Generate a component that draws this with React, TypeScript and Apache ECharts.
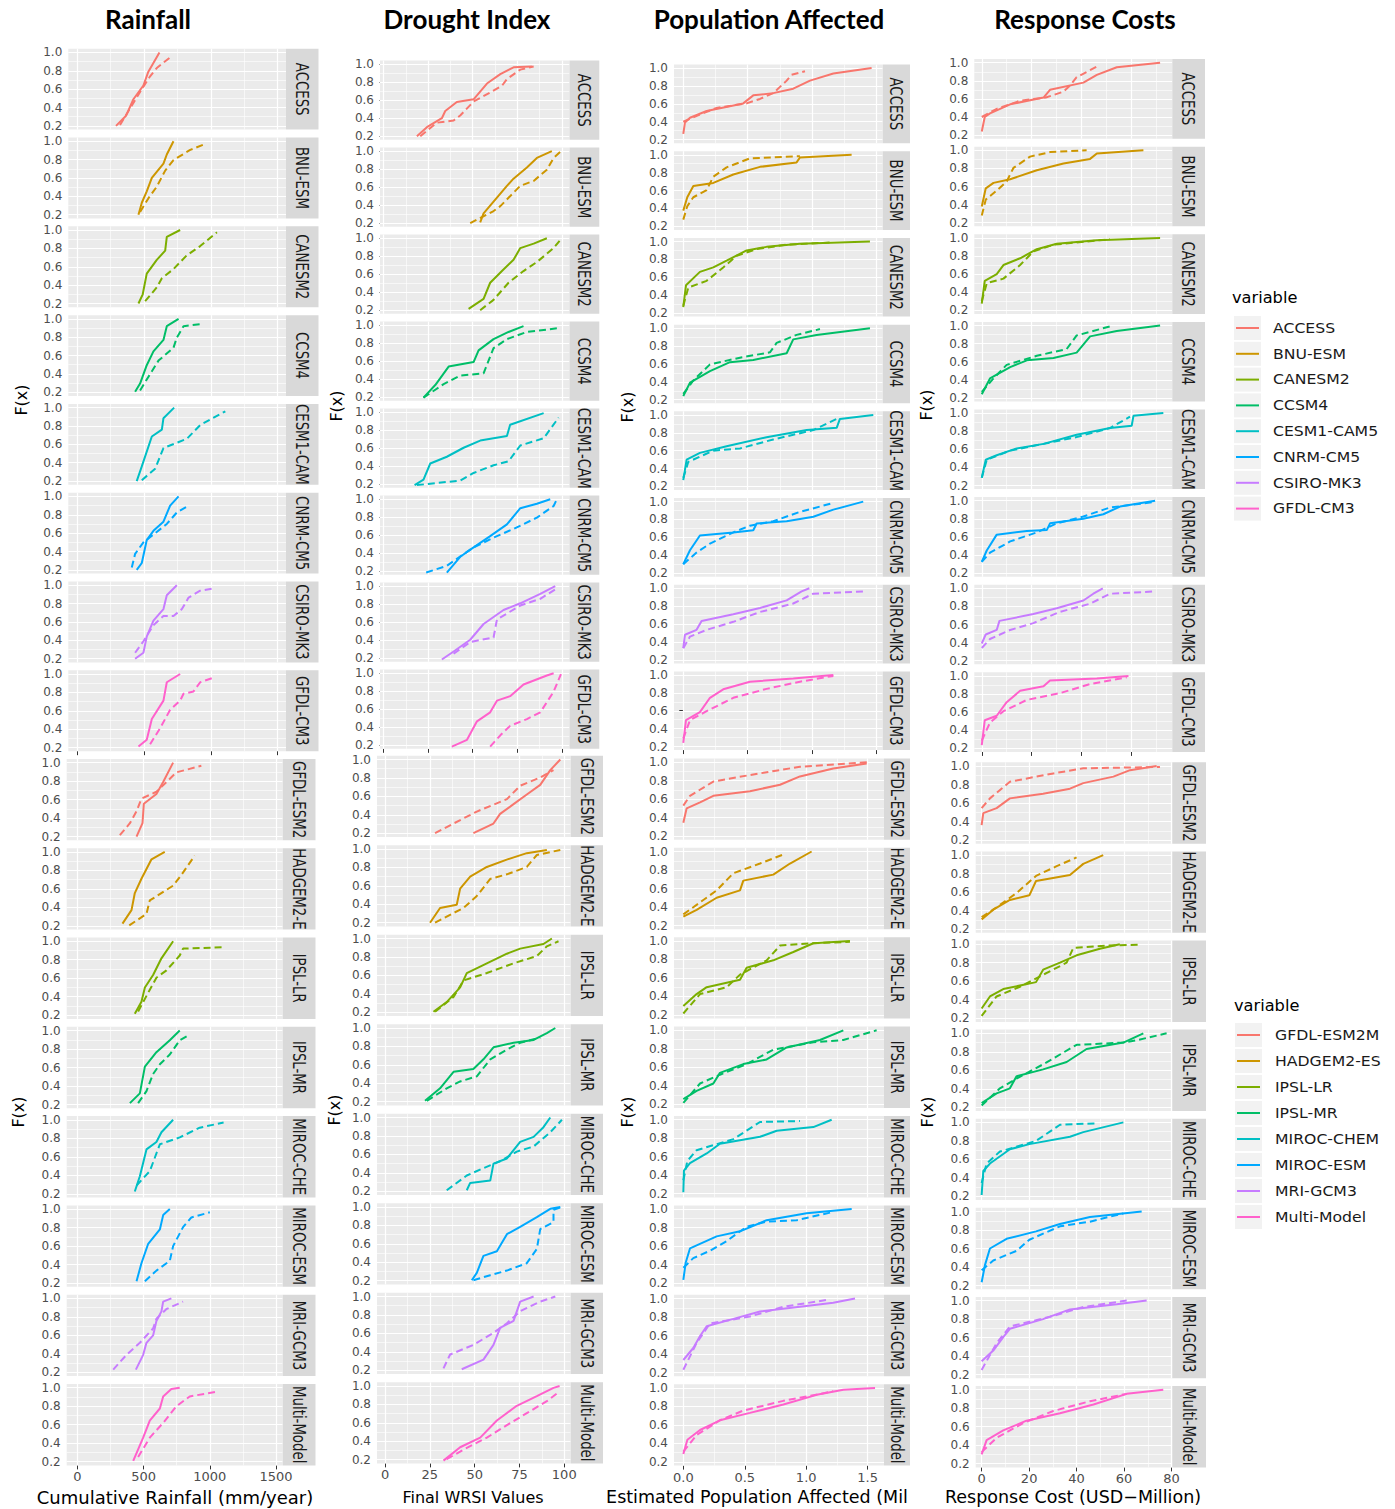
import React, { useEffect, useRef } from "react";
import * as echarts from "echarts";

// ---------------- DATA ----------------
const modelsTop = ["ACCESS", "BNU-ESM", "CANESM2", "CCSM4", "CESM1-CAM5", "CNRM-CM5", "CSIRO-MK3", "GFDL-CM3"];
const modelsBottom = ["GFDL-ESM2M", "HADGEM2-ES", "IPSL-LR", "IPSL-MR", "MIROC-CHEM", "MIROC-ESM", "MRI-GCM3", "Multi-Model"];
const palette = ["#F8766D", "#CD9600", "#7CAE00", "#00BE67", "#00BFC4", "#00A9FF", "#C77CFF", "#FF61CC"];

const yTicks = [0.2, 0.4, 0.6, 0.8, 1.0];
const yMinor = [0.3, 0.5, 0.7, 0.9];
const rainfallTicks = [0, 500, 1000, 1500];
const rainfallMinor = [250, 750, 1250];
const droughtTicks = [0, 25, 50, 75, 100];
const droughtMinor = [12.5, 37.5, 62.5, 87.5];
const populationTicks = [0, 0.5, 1.0, 1.5];
const populationMinor = [0.25, 0.75, 1.25];
const costTicks = [0, 20, 40, 60, 80];
const costMinor = [10, 30, 50, 70];

// [x, F(x)] points, index order: modelsTop then modelsBottom
const rainfallSolid = [
  [[290, .2], [365, .31], [420, .49], [495, .64], [532, .79], [615, 1.0]],
  [[458, .2], [483, .33], [520, .455], [558, .6], [645, .755], [670, .855], [720, 1.0]],
  [[458, .2], [490, .3], [520, .525], [595, .675], [658, .775], [670, .925], [770, 1.0]],
  [[433, .205], [470, .295], [520, .495], [570, .645], [645, .77], [670, .92], [758, 1.0]],
  [[445, .2], [483, .36], [558, .685], [633, .76], [645, .885], [725, 1.0]],
  [[445, .2], [483, .275], [520, .525], [570, .625], [645, .725], [695, .9], [758, 1.0]],
  [[433, .2], [495, .265], [520, .44], [570, .615], [645, .74], [670, .89], [745, 1.0]],
  [[458, .21], [520, .285], [558, .51], [645, .71], [670, .91], [770, 1.0]],
  [[447, .2], [492, .345], [502, .555], [597, .66], [648, .79], [723, 1.0]],
  [[341, .225], [409, .37], [434, .555], [484, .71], [560, .92], [660, 1.0]],
  [[434, .215], [484, .345], [510, .5], [572, .635], [635, .815], [723, 1.0]],
  [[397, .215], [472, .32], [510, .61], [597, .765], [698, .895], [773, 1.0]],
  [[434, .225], [472, .39], [522, .68], [597, .76], [635, .865], [723, 1.0]],
  [[447, .22], [484, .415], [535, .625], [623, .78], [648, .935], [698, 1.0]],
  [[442, .23], [497, .39], [522, .52], [572, .6], [597, .755], [635, .86], [648, .965], [710, 1.0]],
  [[422, .21], [497, .46], [547, .645], [623, .775], [648, .905], [710, .985], [773, 1.0]],
];
const rainfallDashed = [
  [[320, .21], [395, .39], [470, .57], [545, .74], [595, .83], [690, .94]],
  [[470, .23], [533, .38], [595, .505], [658, .68], [720, .795], [845, .905], [958, .97]],
  [[508, .225], [595, .375], [633, .475], [720, .575], [820, .725], [920, .825], [1045, .975]],
  [[470, .22], [533, .37], [608, .545], [720, .685], [745, .795], [795, .92], [945, .945]],
  [[483, .21], [583, .335], [645, .56], [820, .66], [920, .81], [1108, .96]],
  [[408, .225], [433, .375], [495, .5], [583, .6], [670, .7], [745, .825], [833, .9]],
  [[433, .265], [495, .39], [570, .565], [645, .665], [720, .665], [783, .74], [833, .865], [920, .94], [1020, .965]],
  [[545, .235], [620, .41], [695, .61], [770, .71], [795, .785], [870, .81], [920, .91], [1020, .96]],
  [[321, .215], [397, .345], [447, .475], [484, .61], [597, .685], [673, .79], [748, .895], [936, .965]],
  [[392, .205], [522, .33], [547, .475], [723, .635], [785, .75], [886, .96]],
  [[459, .24], [547, .475], [597, .605], [673, .685], [773, .845], [798, .92], [1099, .935]],
  [[459, .215], [522, .345], [572, .53], [623, .635], [698, .74], [773, .895], [843, .95]],
  [[447, .29], [547, .445], [623, .735], [773, .81], [924, .915], [1104, .97]],
  [[510, .22], [597, .335], [698, .44], [723, .6], [798, .805], [861, .91], [1000, .965]],
  [[271, .23], [371, .39], [472, .52], [572, .675], [597, .78], [673, .885], [798, .965]],
  [[459, .25], [547, .46], [648, .62], [748, .8], [848, .905], [1062, .96]],
];

const droughtSolid = [
  [[18.7, .2], [24.3, .3], [32.7, .4], [34.6, .48], [41.1, .58], [50.5, .61], [58, .785], [65.5, .89], [72.9, .965], [83.2, .975]],
  [[54.2, .21], [56.1, .31], [61.7, .44], [69.2, .615], [72.9, .695], [80.4, .82], [86, .925], [94.4, 1.0]],
  [[47.7, .215], [56.1, .325], [59.8, .505], [66.4, .635], [72.9, .76], [76.7, .89], [84.2, .94], [91.6, 1.0]],
  [[22.4, .195], [29, .335], [36.5, .54], [50.5, .59], [53.3, .72], [61.7, .845], [70.1, .925], [78.5, .99]],
  [[17.4, .19], [22.4, .25], [26.2, .43], [35.5, .505], [44.9, .605], [54.2, .685], [69.2, .735], [71, .86], [89.8, .99]],
  [[35.5, .185], [43, .36], [50.5, .465], [59.8, .59], [69.2, .72], [76.7, .9], [86, .95], [93.5, 1.0]],
  [[32.7, .185], [39.3, .275], [48.6, .405], [56.1, .58], [67.3, .735], [76.7, .81], [87.9, .915], [96.3, 1.0]],
  [[38.3, .185], [46.8, .26], [52.4, .465], [59.8, .565], [63.6, .695], [71, .745], [78.5, .875], [91.6, .975], [95.4, 1.0]],
  [[49.3, .2], [60.5, .305], [64.2, .41], [71.7, .515], [79.1, .62], [86.6, .725], [92.2, .885], [97.8, 1.0]],
  [[25.1, .2], [30.7, .36], [40, .395], [41.9, .57], [47.5, .7], [56.8, .805], [67.9, .885], [79.1, .955], [90.3, .99]],
  [[27, .205], [34.4, .31], [41.9, .47], [45.6, .625], [56.8, .73], [68, .835], [75.4, .89], [88.4, .94], [93.1, 1.0]],
  [[22.3, .21], [30.7, .345], [38.2, .525], [49.3, .555], [54.9, .66], [60.5, .79], [71.7, .84], [82.9, .87], [90.3, .945], [95, 1.0]],
  [[45.6, .21], [47.5, .29], [58.7, .315], [60.5, .5], [68, .555], [75.4, .735], [82.9, .79], [88.4, .895], [92.2, 1.0]],
  [[48.4, .205], [51.2, .285], [54.9, .47], [62.4, .52], [68, .705], [75.4, .785], [84.7, .89], [92.2, .98], [97.8, 1.0]],
  [[42.8, .21], [54.9, .315], [60.5, .475], [64.2, .66], [71.7, .735], [75.4, .945], [82.9, 1.0]],
  [[32.6, .19], [41.9, .335], [53.1, .44], [62.4, .625], [73.5, .785], [84.7, .89], [94, .98], [97.4, 1.0]],
];
const droughtDashed = [
  [[20.6, .2], [29.9, .35], [39.3, .375], [43, .43], [50.5, .585], [59.8, .685], [66.4, .76], [69.2, .835], [76.7, .94], [84.2, .975]],
  [[48.6, .2], [61.7, .335], [65.5, .39], [76.7, .615], [84.2, .67], [91.6, .795], [95.4, .925], [99.5, 1.0]],
  [[54.2, .2], [61.7, .315], [70.1, .505], [78.5, .635], [86, .735], [95.4, .89], [99.5, .99]],
  [[22.4, .195], [33.7, .345], [43, .44], [56.1, .465], [61.7, .745], [69.2, .845], [80.4, .925], [97.2, .965]],
  [[18.7, .19], [43, .24], [50.5, .325], [61.7, .41], [70.1, .455], [76.7, .63], [89.8, .71], [98.2, .94]],
  [[23.9, .185], [35.5, .26], [50.5, .465], [63.6, .59], [72.9, .67], [86, .795], [95.4, .925], [97.2, 1.0]],
  [[39.3, .25], [48.6, .38], [61.7, .43], [63.6, .63], [76.7, .785], [87.9, .86], [96.3, .965]],
  [[59.8, .185], [65.5, .31], [71, .415], [80.4, .49], [87.9, .565], [95.4, .795], [99.5, .99]],
  [[27.9, .2], [38.2, .305], [51.2, .435], [68, .57], [75.4, .715], [86.6, .805], [94, .885]],
  [[27.9, .2], [38.2, .305], [43.8, .36], [51.2, .49], [58.7, .675], [68, .725], [79.1, .805], [84.7, .935], [97.8, .99]],
  [[27.9, .205], [38.2, .365], [43.8, .545], [56.8, .625], [71.7, .73], [84.7, .81], [90.3, .915], [96.8, .97]],
  [[23.3, .21], [34.4, .345], [41.9, .42], [51.2, .475], [58.7, .66], [68, .765], [75.4, .84], [86.6, .895]],
  [[34.4, .21], [45.6, .37], [54.9, .45], [64.2, .525], [73.5, .63], [82.9, .685], [92.2, .84], [98.7, .975]],
  [[49.3, .205], [58.7, .26], [68, .31], [79.1, .39], [84.7, .545], [86.6, .76], [94, .835], [94, .97], [98.7, 1.0]],
  [[32.6, .22], [36.3, .37], [49.3, .475], [60.5, .605], [68, .71], [75.4, .84], [86.6, .945], [95, 1.0]],
  [[34.4, .205], [43.8, .31], [56.8, .44], [68, .575], [79.1, .705], [90.3, .835], [97.4, .94]],
];

const populationSolid = [
  [[0, .265], [.013, .39], [.052, .445], [.181, .52], [.465, .605], [.543, .695], [.698, .72], [.853, .77], [.983, .86], [1.164, .94], [1.461, 1.0]],
  [[0, .375], [.031, .525], [.078, .65], [.233, .685], [.388, .78], [.595, .865], [.879, .915], [.905, .97], [1.306, 1.0]],
  [[0, .265], [.021, .51], [.129, .66], [.233, .71], [.336, .785], [.491, .9], [.646, .94], [.905, .975], [1.448, 1.0]],
  [[0, .24], [.052, .39], [.207, .52], [.362, .62], [.543, .645], [.802, .72], [.853, .875], [1.034, .925], [1.448, 1.0]],
  [[0, .27], [.026, .5], [.129, .575], [.336, .65], [.646, .75], [.957, .83], [1.19, .855], [1.215, .955], [1.474, 1.0]],
  [[0, .3], [.052, .455], [.129, .62], [.388, .655], [.543, .68], [.569, .755], [.802, .78], [1.009, .83], [1.164, .91], [1.396, 1.0]],
  [[0, .33], [.013, .48], [.103, .535], [.142, .635], [.388, .71], [.595, .78], [.802, .865], [.918, .965], [.978, 1.0]],
  [[0, .24], [.021, .495], [.129, .585], [.207, .745], [.31, .84], [.517, .925], [.853, .96], [1.164, 1.0]],
  [[0, .345], [.027, .5], [.136, .565], [.244, .635], [.542, .685], [.787, .755], [.949, .845], [1.22, .93], [1.492, .985]],
  [[0, .295], [.108, .37], [.271, .5], [.461, .58], [.488, .685], [.732, .75], [.868, .87], [1.044, 1.0]],
  [[0, .295], [.108, .425], [.19, .5], [.461, .58], [.515, .71], [.732, .79], [.895, .88], [1.058, .975], [1.356, 1.0]],
  [[0, .255], [.108, .345], [.244, .425], [.298, .54], [.488, .635], [.678, .685], [.841, .815], [1.112, .895], [1.302, 1.0]],
  [[0, .215], [.005, .45], [.054, .53], [.19, .635], [.298, .74], [.624, .815], [.76, .88], [1.058, .92], [1.207, 1.0]],
  [[0, .235], [.019, .42], [.054, .575], [.271, .705], [.461, .76], [.678, .88], [1.003, .955], [1.37, 1.0]],
  [[0, .335], [.081, .465], [.136, .595], [.19, .7], [.407, .78], [.624, .86], [.949, .91], [1.22, .955], [1.397, 1.0]],
  [[0, .285], [.033, .44], [.136, .545], [.298, .65], [.542, .73], [.814, .82], [1.085, .925], [1.302, .98], [1.56, 1.0]],
];
const populationDashed = [
  [[0, .4], [.078, .45], [.259, .555], [.491, .605], [.595, .655], [.698, .72], [.802, .86], [.84, .925], [.944, .965]],
  [[0, .275], [.031, .425], [.078, .525], [.181, .605], [.233, .755], [.336, .86], [.517, .96], [.905, .985]],
  [[0, .28], [.039, .485], [.181, .56], [.31, .71], [.414, .84], [.569, .915], [.802, .965], [1.164, .99]],
  [[0, .265], [.078, .415], [.207, .595], [.44, .67], [.672, .73], [.724, .835], [.879, .925], [1.06, .99]],
  [[0, .295], [.039, .475], [.233, .6], [.44, .625], [.698, .725], [1.009, .83], [1.19, .955]],
  [[0, .3], [.103, .43], [.207, .53], [.388, .655], [.517, .73], [.698, .78], [.905, .885], [1.164, .985]],
  [[0, .33], [.052, .46], [.181, .535], [.388, .625], [.595, .735], [.853, .83], [1.009, .94], [1.396, .965]],
  [[0, .29], [.052, .495], [.181, .595], [.388, .745], [.646, .845], [.905, .925], [1.164, .99]],
  [[0, .53], [.054, .635], [.244, .79], [.542, .86], [.949, .95], [1.519, 1.0]],
  [[0, .32], [.136, .45], [.271, .58], [.407, .765], [.624, .87], [.827, .975]],
  [[0, .215], [.136, .425], [.353, .5], [.461, .635], [.678, .79], [.787, .95], [1.058, .975], [1.356, .99]],
  [[0, .215], [.136, .425], [.298, .52], [.515, .635], [.732, .79], [1.058, .87], [1.302, .895], [1.573, 1.0]],
  [[0, .345], [.033, .555], [.108, .67], [.407, .79], [.624, .975], [.949, .985]],
  [[0, .365], [.081, .47], [.217, .55], [.353, .655], [.515, .81], [.678, .865], [.922, .88], [1.22, .97]],
  [[0, .23], [.108, .52], [.217, .73], [.542, .805], [.814, .91], [1.193, .99]],
  [[0, .31], [.108, .49], [.298, .65], [.488, .755], [.814, .86], [1.112, .935], [1.22, .965]],
];

const costSolid = [
  [[0, .24], [1.2, .4], [3.3, .44], [11.4, .54], [24.8, .615], [27.4, .7], [40.8, .78], [46.2, .865], [54.2, .95], [71.6, 1.0]],
  [[0, .38], [1.6, .58], [4.7, .64], [11.4, .68], [22.1, .78], [32.8, .855], [43.5, .905], [46.2, .965], [64.9, 1.0]],
  [[0, .275], [1.2, .525], [6, .6], [8.7, .7], [15.4, .775], [22.1, .875], [30.1, .935], [46.2, .975], [71.6, 1.0]],
  [[0, .24], [3.3, .415], [11.4, .54], [18.1, .615], [28.8, .64], [38.1, .7], [43.5, .88], [54.2, .94], [71.6, 1.0]],
  [[0, .285], [1.6, .485], [6, .535], [14, .61], [24.8, .66], [38.1, .76], [51.5, .835], [60.2, .86], [60.9, .97], [72.9, 1.0]],
  [[0, .325], [2, .45], [6, .625], [18.1, .665], [26.1, .675], [27.4, .75], [40.8, .8], [48.8, .85], [55.5, .935], [69.6, 1.0]],
  [[0, .39], [1.6, .49], [6, .54], [7.1, .64], [20.7, .715], [30.1, .78], [40.8, .865], [44.8, .94], [48.6, 1.0]],
  [[0, .235], [1.2, .51], [6, .56], [10, .71], [15.4, .835], [24.8, .885], [27.4, .95], [46.2, .97], [58.9, 1.0]],
  [[0, .36], [.7, .49], [6.3, .545], [11.9, .65], [25.9, .7], [37.2, .755], [42.8, .815], [55.5, .885], [62.5, .955], [73.7, 1.0]],
  [[0, .305], [4.9, .41], [11.9, .515], [20.1, .565], [22.9, .72], [37.2, .785], [42.8, .905], [51.2, 1.0]],
  [[0, .305], [3.5, .435], [9.1, .515], [22.9, .59], [25.9, .725], [33, .8], [40, .88], [49.8, .95], [58.2, 1.0]],
  [[0, .245], [6.3, .35], [11.9, .405], [14.7, .535], [25.9, .61], [35.8, .69], [44.2, .83], [59.7, .9], [68.1, 1.0]],
  [[0, .215], [.7, .475], [3.5, .555], [11.9, .71], [20.1, .765], [37.2, .845], [42.8, .895], [59.7, 1.0]],
  [[0, .235], [1.4, .42], [3.5, .6], [10.5, .705], [22.9, .785], [33, .865], [45.6, .94], [67.4, 1.0]],
  [[0, .345], [4.9, .46], [9.1, .605], [11.9, .695], [25.9, .8], [37.2, .905], [56.9, .96], [69.5, 1.0]],
  [[0, .3], [2.1, .455], [9.1, .56], [18.9, .665], [33, .745], [47.1, .84], [61.1, .955], [76.5, 1.0]],
];
const costDashed = [
  [[0, .4], [6, .49], [15.4, .58], [25.7, .615], [32.8, .68], [35.5, .75], [38.1, .84], [46.8, .965]],
  [[0, .28], [1.6, .455], [6, .555], [10, .655], [12.7, .805], [19.4, .93], [27.4, .98], [42.1, 1.0]],
  [[0, .3], [2, .5], [8.7, .55], [15.4, .7], [20.7, .85], [28.8, .925], [51.5, .985]],
  [[0, .265], [4.7, .415], [10, .565], [22.1, .665], [34.1, .74], [38.1, .89], [51.5, .99]],
  [[0, .285], [2, .485], [11.4, .585], [24.8, .66], [38.1, .735], [51.5, .835], [59.5, .96]],
  [[0, .325], [3.3, .425], [11.4, .55], [22.1, .65], [30.1, .75], [40.8, .825], [51.5, .925], [68.9, .985]],
  [[0, .34], [3.3, .44], [11.4, .54], [20.7, .615], [31.4, .74], [43.5, .83], [51.5, .94], [69.6, .965]],
  [[0, .285], [3.3, .485], [8.7, .61], [18.1, .735], [31.4, .81], [43.5, .91], [58.2, .985]],
  [[0, .545], [3.5, .65], [11.9, .83], [30.2, .92], [42.8, .975], [75.1, .99]],
  [[0, .33], [6.3, .435], [14.7, .59], [22.9, .775], [31.6, .88], [40, .975]],
  [[0, .225], [6.3, .435], [16.1, .54], [25.9, .67], [35.8, .8], [38.6, .96], [52.7, .985], [66.7, .995]],
  [[0, .22], [7.7, .405], [14.7, .51], [25.9, .665], [40, .875], [59.7, .9], [65.3, .925], [77.9, 1.0]],
  [[0, .345], [2.1, .555], [7.7, .685], [22.9, .8], [33, .975], [48.4, .99]],
  [[0, .365], [4.9, .47], [14.7, .575], [20.1, .695], [33, .84], [45.6, .89], [59.7, .98]],
  [[0, .25], [6.3, .54], [11.9, .72], [28.8, .825], [42.8, .93], [61.1, 1.0]],
  [[0, .325], [6.3, .48], [17.6, .64], [30.2, .77], [45.6, .875], [61.1, .955]],
];

// ---------------- LAYOUT ----------------
const FONT = "'DejaVu Sans', Verdana, sans-serif";
const STRIP_SCALE = 0.74;

const columns = [
  {
    title: "Rainfall", titleX: 148,
    xTitle: "Cumulative Rainfall (mm/year)", xTitleX: 175, xTitleSize: 18,
    ticks: rainfallTicks, minor: rainfallMinor, fmt: (v: number) => String(v),
    solid: rainfallSolid, dashed: rainfallDashed,
    fx: [[21, 400], [18, 1112]],
    halves: [
      { left: 68.3, right: 286, stripR: 318.5, xMin: -67, xMax: 1562, y1: 52.4, pitch: 88.8, span: 73.5 },
      { left: 66.7, right: 282.7, stripR: 315.5, xMin: -80, xMax: 1550, y1: 762.6, pitch: 89.3, span: 74 },
    ],
  },
  {
    title: "Drought Index", titleX: 467,
    xTitle: "Final WRSI Values", xTitleX: 473, xTitleSize: 16,
    ticks: droughtTicks, minor: droughtMinor, fmt: (v: number) => String(v),
    solid: droughtSolid, dashed: droughtDashed,
    fx: [[336, 406], [334, 1110]],
    halves: [
      { left: 380, right: 569.5, stripR: 599.3, xMin: -2, xMax: 104.3, y1: 64.2, pitch: 87.0, span: 72 },
      { left: 377, right: 570.7, stripR: 603, xMin: -4.5, xMax: 103.6, y1: 759.5, pitch: 89.5, span: 73.7 },
    ],
  },
  {
    title: "Population Affected", titleX: 769,
    xTitle: "Estimated Population Affected (Mil", xTitleX: 757, xTitleSize: 17.5,
    ticks: populationTicks, minor: populationMinor, fmt: (v: number) => v.toFixed(1),
    solid: populationSolid, dashed: populationDashed,
    fx: [[627, 407], [627, 1112]],
    halves: [
      { left: 674, right: 882.7, stripR: 910, xMin: -0.072, xMax: 1.547, y1: 68.1, pitch: 86.7, span: 71.5 },
      { left: 674, right: 884, stripR: 910, xMin: -0.076, xMax: 1.633, y1: 762.1, pitch: 89.4, span: 74 },
    ],
  },
  {
    title: "Response Costs", titleX: 1085,
    xTitle: "Response Cost (USD\u2212Million)", xTitleX: 1073, xTitleSize: 17.5,
    ticks: costTicks, minor: costMinor, fmt: (v: number) => String(v),
    solid: costSolid, dashed: costDashed,
    fx: [[926, 405], [927, 1112]],
    halves: [
      { left: 974.3, right: 1172.3, stripR: 1205, xMin: -3, xMax: 76.5, y1: 62.7, pitch: 87.6, span: 72.4 },
      { left: 975.7, right: 1172.3, stripR: 1206, xMin: -2.5, xMax: 80.3, y1: 766, pitch: 89.1, span: 74 },
    ],
  },
];

const legends = [
  { titleX: 1232, titleY: 298, keyX: 1234, textX: 1273, y0: 328, pitch: 25.8, names: modelsTop },
  { titleX: 1234, titleY: 1006, keyX: 1235, textX: 1275, y0: 1035, pitch: 26, names: modelsBottom },
];

function buildOption() {
  const grids: any[] = [];
  const xAxes: any[] = [];
  const yAxes: any[] = [];
  const series: any[] = [];
  const graphics: any[] = [];

  columns.forEach((col) => {
    col.halves.forEach((half, hi) => {
      const names = hi === 0 ? modelsTop : modelsBottom;
      names.forEach((name, mi) => {
        const idx = grids.length;
        const k = hi * 8 + mi;
        const y1 = half.y1 + half.pitch * mi;
        const top = y1 - 0.05 * half.span;
        const height = 1.1 * half.span;
        const inX = (v: number) => v >= half.xMin && v <= half.xMax;
        const xt = col.ticks.filter(inX);
        const xm = col.minor.filter(inX);
        const isLast = mi === 7;
        grids.push({
          left: half.left, top, width: half.right - half.left, height,
          show: true, backgroundColor: "#EBEBEB", borderWidth: 0, containLabel: false,
        });
        xAxes.push({
          gridIndex: idx, type: "value", min: half.xMin, max: half.xMax,
          axisLine: { show: false }, splitLine: { show: false },
          axisTick: { show: isLast, customValues: xt, length: 4, lineStyle: { color: "#333333", width: 1 } },
          axisLabel: {
            show: isLast && hi === 1, customValues: xt, formatter: col.fmt, margin: 5,
            fontFamily: FONT, fontSize: 13, color: "#4D4D4D",
          },
        });
        yAxes.push({
          gridIndex: idx, type: "value", min: 0.16, max: 1.04,
          axisLine: { show: false }, splitLine: { show: false },
          axisTick: { show: true, customValues: yTicks, length: 4, lineStyle: { color: "#333333", width: 1 } },
          axisLabel: {
            customValues: yTicks, formatter: (v: number) => v.toFixed(1), margin: 6,
            fontFamily: FONT, fontSize: 12, color: "#4D4D4D",
          },
        });
        const gl = (w: number) => ({ color: "#FFFFFF", width: w, type: "solid" });
        const color = palette[mi];
        series.push({
          type: "line", xAxisIndex: idx, yAxisIndex: idx, data: col.solid[k],
          symbol: "none", showSymbol: false, silent: true, z: 3,
          lineStyle: { color, width: 2, type: "solid" },
          markLine: {
            silent: true, symbol: ["none", "none"], z: 1, animation: false,
            label: { show: false },
            data: [
              ...xm.map((v) => ({ xAxis: v, lineStyle: gl(0.6) })),
              ...yMinor.map((v) => ({ yAxis: v, lineStyle: gl(0.6) })),
              ...xt.map((v) => ({ xAxis: v, lineStyle: gl(1.2) })),
              ...yTicks.map((v) => ({ yAxis: v, lineStyle: gl(1.2) })),
            ],
          },
        });
        series.push({
          type: "line", xAxisIndex: idx, yAxisIndex: idx, data: col.dashed[k],
          symbol: "none", showSymbol: false, silent: true, z: 3,
          lineStyle: { color, width: 2, type: [7, 4] },
        });
        // facet strip
        const sw = half.stripR - half.right;
        graphics.push({
          type: "rect", silent: true, z: 10,
          shape: { x: half.right, y: top, width: sw, height },
          style: { fill: "#D9D9D9" },
        });
        graphics.push({
          type: "text", silent: true, z: 11,
          x: half.right + sw / 2, y: top + height / 2,
          rotation: -Math.PI / 2, scaleX: STRIP_SCALE,
          style: {
            text: name, fill: "#1A1A1A", font: `18px ${FONT}`,
            align: "center", verticalAlign: "middle",
            width: (height + 6) / STRIP_SCALE, overflow: "truncate", ellipsis: "",
          },
        });
      });
    });
    // column title
    graphics.push({
      type: "text", silent: true, x: col.titleX, y: 19,
      style: { text: col.title, fill: "#000", font: `bold 26px Lato, 'Open Sans', sans-serif`, align: "center", verticalAlign: "middle" },
    });
    // x axis title
    graphics.push({
      type: "text", silent: true, x: col.xTitleX, y: 1497,
      style: { text: col.xTitle, fill: "#000", font: `${col.xTitleSize}px ${FONT}`, align: "center", verticalAlign: "middle" },
    });
    col.fx.forEach(([fx, fy]) => {
      graphics.push({
        type: "text", silent: true, x: fx, y: fy, rotation: Math.PI / 2,
        style: { text: "F(x)", fill: "#000", font: `16px ${FONT}`, align: "center", verticalAlign: "middle" },
      });
    });
  });

  legends.forEach((lg) => {
    graphics.push({
      type: "text", silent: true, x: lg.titleX, y: lg.titleY, scaleX: 1.08,
      style: { text: "variable", fill: "#000", font: `15px ${FONT}`, align: "left", verticalAlign: "middle" },
    });
    lg.names.forEach((name, i) => {
      const cy = lg.y0 + lg.pitch * i;
      graphics.push({
        type: "rect", silent: true, shape: { x: lg.keyX, y: cy - 12, width: 27, height: 24 },
        style: { fill: "#F2F2F2" },
      });
      graphics.push({
        type: "line", silent: true, shape: { x1: lg.keyX + 2, y1: cy, x2: lg.keyX + 25, y2: cy },
        style: { stroke: palette[i], lineWidth: 2 },
      });
      graphics.push({
        type: "text", silent: true, x: lg.textX, y: cy, scaleX: 1.12,
        style: { text: name, fill: "#1A1A1A", font: `14px ${FONT}`, align: "left", verticalAlign: "middle" },
      });
    });
  });

  return {
    animation: false,
    backgroundColor: "#FFFFFF",
    grid: grids,
    xAxis: xAxes,
    yAxis: yAxes,
    series,
    graphic: { elements: graphics },
  };
}

export default function App() {
  const ref = useRef<HTMLDivElement>(null);
  useEffect(() => {
    if (!ref.current) return;
    const chart = echarts.init(ref.current, undefined, { renderer: "svg" });
    chart.setOption(buildOption() as any);
    return () => chart.dispose();
  }, []);
  return (
    <div
      ref={ref}
      style={{ position: "absolute", left: 0, top: 0, width: 1395, height: 1509, background: "#fff" }}
    />
  );
}
